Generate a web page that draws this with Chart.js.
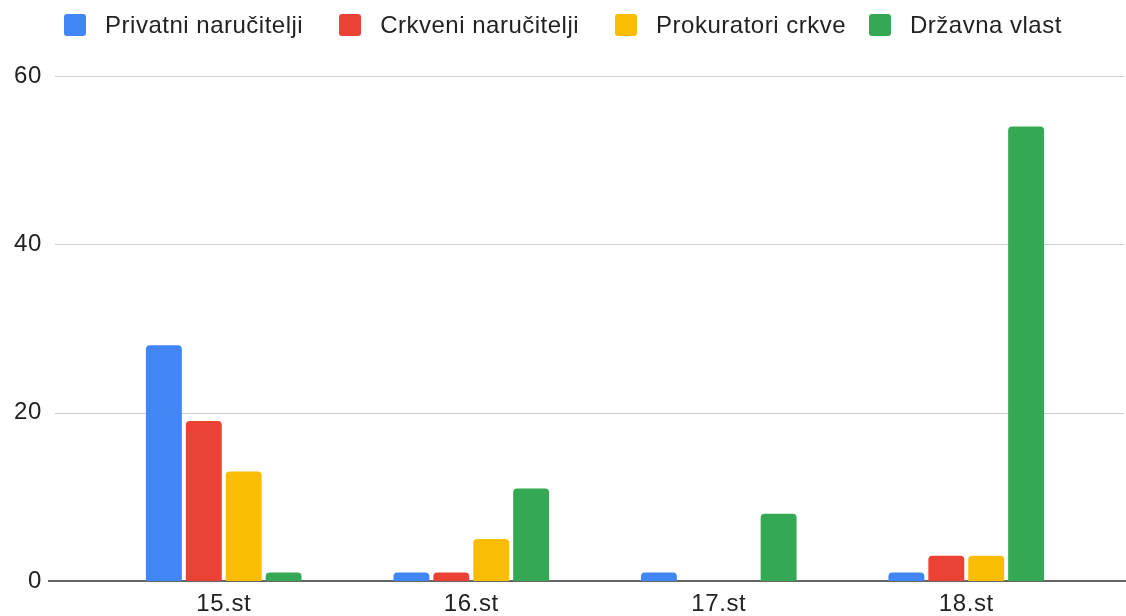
<!DOCTYPE html>
<html>
<head>
<meta charset="utf-8">
<script src="https://cdn.jsdelivr.net/npm/chart.js@4/dist/chart.umd.min.js"></script>
<style>
  html, body { margin: 0; padding: 0; background: #fff; }
  #wrap { position: relative; width: 1126px; height: 616px; }
  #legend { position: absolute; left: 0; right: 0; top: 14px; height: 22px;
            display: flex; justify-content: center; align-items: center;
            font-family: "Liberation Sans", Arial, sans-serif; font-size: 24px;
            letter-spacing: 0.5px; color: #222; }
  #legend .item { display: flex; align-items: center; margin: 0 18px; }
  #legend .item:last-child { margin-left: 5px; }
  #legend .box { width: 22px; height: 22px; border-radius: 3px; margin-right: 19px; }
</style>
</head>
<body>
<div id="wrap">
  <div id="legend"></div>
  <canvas id="stoljeca_chart" width="1126" height="616"></canvas>
</div>
<script>
// podaci s grafa
const categories = ['15.st', '16.st', '17.st', '18.st'];
const privatni = [28, 1, 1, 1];
const crkveni = [19, 1, 0, 3];
const prokuratori = [13, 5, 0, 3];
const drzavna = [1, 11, 8, 54];
const yTicks = [0, 20, 40, 60];

const FONT = '"Liberation Sans", Arial, sans-serif';

// mreža preko cijele širine, kao u originalu
const fullGrid = {
    id: 'fullGrid',
    beforeDraw(chart) {
        chart.ctx.letterSpacing = '0.6px';
    },
    beforeDatasetsDraw(chart) {
        let ctx = chart.ctx;
        let y = chart.scales.y;
        ctx.save();
        yTicks.forEach((v) => {
            let py = Math.round(y.getPixelForValue(v));
            ctx.beginPath();
            if (v === 0) {
                ctx.moveTo(48, py);
                ctx.lineTo(1126, py);
                ctx.lineWidth = 1.6;
                ctx.strokeStyle = '#333333';
            } else {
                ctx.moveTo(55, py + 0.5);
                ctx.lineTo(1124, py + 0.5);
                ctx.lineWidth = 1;
                ctx.strokeStyle = '#cccccc';
            }
            ctx.stroke();
        });
        ctx.restore();
    }
};

// legenda u HTML-u
const htmlLegend = {
    id: 'htmlLegend',
    afterUpdate(chart) {
        let el = document.getElementById('legend');
        el.innerHTML = '';
        chart.data.datasets.forEach((d) => {
            let item = document.createElement('div');
            item.className = 'item';
            let box = document.createElement('span');
            box.className = 'box';
            box.style.background = d.backgroundColor;
            let txt = document.createElement('span');
            txt.textContent = d.label;
            item.appendChild(box);
            item.appendChild(txt);
            el.appendChild(item);
        });
    }
};

function ds(label, data, color) {
    return {
        label: label,
        data: data,
        backgroundColor: color,
        borderWidth: 0,
        borderRadius: {topLeft: 4, topRight: 4, bottomLeft: 0, bottomRight: 0},
        borderSkipped: 'start',
        categoryPercentage: 0.645,
        barPercentage: 0.9
    };
}

let ctx = document.getElementById('stoljeca_chart');
let myChart = new Chart(ctx, {
    type: 'bar',
    data: {
        labels: categories,
        datasets: [
            ds('Privatni naručitelji', privatni, '#4285F4'),
            ds('Crkveni naručitelji', crkveni, '#EA4335'),
            ds('Prokuratori crkve', prokuratori, '#FBBC04'),
            ds('Državna vlast', drzavna, '#34A853')
        ]
    },
    plugins: [fullGrid, htmlLegend],
    options: {
        responsive: false,
        animation: false,
        layout: { padding: { left: 0, right: 36, top: 76, bottom: 0 } },
        plugins: {
            tooltip: { enabled: false },
            legend: { display: false }
        },
        scales: {
            x: {
                grid: { display: false, drawTicks: false },
                border: { display: false },
                afterFit: (axis) => { axis.height = 35; },
                ticks: { color: '#222222', padding: 9, font: { family: FONT, size: 24 } }
            },
            y: {
                min: 0,
                max: 60,
                afterBuildTicks: (axis) => { axis.ticks = yTicks.map((v) => ({value: v})); },
                afterFit: (axis) => {
                    axis.width = 100;
                    axis.paddingTop = 0;
                    axis.paddingBottom = 0;
                },
                grid: { display: false, drawTicks: false },
                border: { display: false },
                ticks: { color: '#222222', padding: 58, font: { family: FONT, size: 24 } }
            }
        }
    }
});
</script>
</body>
</html>
